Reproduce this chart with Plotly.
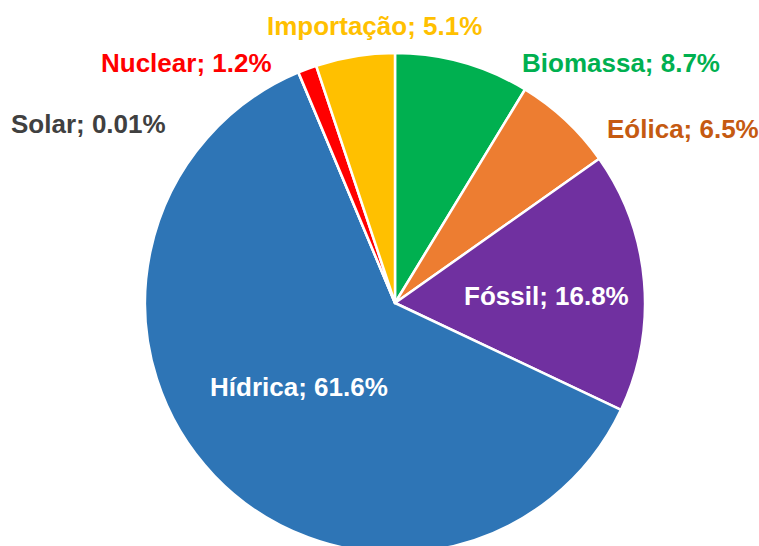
import plotly.graph_objects as go

# Data
labels = ["Biomassa", "Eólica", "Fóssil", "Hídrica", "Solar", "Nuclear", "Importação"]
values = [8.7, 6.5, 16.8, 61.6, 0.01, 1.2, 5.1]
slice_colors = ["#00B050", "#ED7D31", "#7030A0", "#2E75B6", "#7F7F7F", "#FF0000", "#FFC000"]
label_colors = ["#00B050", "#C55A11", "#FFFFFF", "#FFFFFF", "#404040", "#FF0000", "#FFC000"]

# Layout (pixel geometry)
W, H = 759, 560
cx, cy, r = 395, 303, 250
label_px = {
    "Biomassa": (621, 63),
    "Eólica": (683, 129),
    "Fóssil": (546, 296),
    "Hídrica": (299, 387),
    "Solar": (88, 124),
    "Nuclear": (186, 63),
    "Importação": (374, 26),
}

fig = go.Figure(go.Pie(
    labels=labels,
    values=values,
    sort=False,
    direction="clockwise",
    rotation=0,
    marker=dict(colors=slice_colors, line=dict(color="white", width=2.5)),
    textinfo="none",
    hoverinfo="label+percent",
    showlegend=False,
    domain=dict(x=[(cx - r) / W, (cx + r) / W], y=[1 - (cy + r) / H, 1 - (cy - r) / H]),
))

annotations = []
for lab, val, col in zip(labels, values, label_colors):
    px, py = label_px[lab]
    annotations.append(dict(
        x=px / W, y=1 - py / H, xref="paper", yref="paper",
        text=f"{lab}; {val}%", showarrow=False,
        xanchor="center", yanchor="middle",
        font=dict(family="Liberation Sans, Arial, sans-serif", size=26, color=col, weight="bold"),
    ))

fig.update_layout(
    width=W, height=H,
    margin=dict(l=0, r=0, t=0, b=0),
    paper_bgcolor="white",
    plot_bgcolor="white",
    annotations=annotations,
)

fig.write_html(
    "out.html",
    config={"displayModeBar": False},
    post_script="document.documentElement.style.overflow='hidden';document.body.style.overflow='hidden';document.body.style.margin='0';",
)
